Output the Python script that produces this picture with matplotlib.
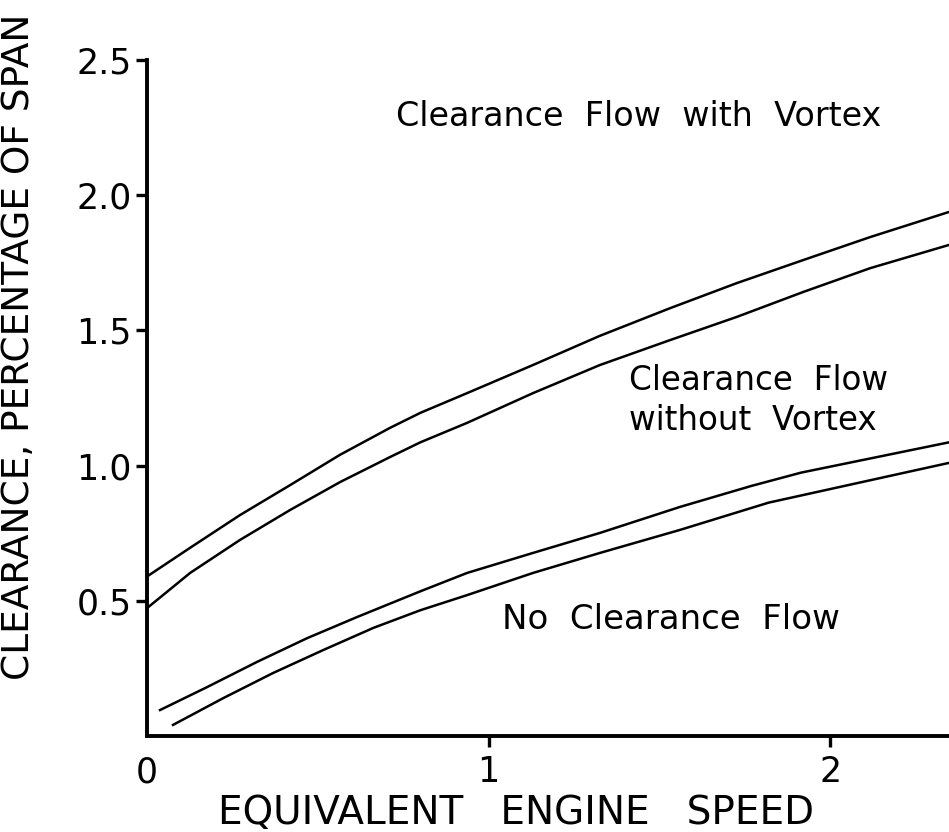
import matplotlib.pyplot as plt

# curve points (x = equivalent engine speed, y = clearance %)
vortex_upper_x = [0, 0.126, 0.272, 0.419, 0.565, 0.712, 0.80, 0.937, 1.13, 1.326, 1.531, 1.727, 1.921, 2.117, 2.348]
vortex_upper_y = [0.59, 0.696, 0.817, 0.928, 1.04, 1.14, 1.195, 1.268, 1.372, 1.48, 1.582, 1.675, 1.76, 1.845, 1.938]

vortex_lower_x = [0, 0.126, 0.272, 0.419, 0.565, 0.712, 0.80, 0.937, 1.13, 1.326, 1.531, 1.727, 1.921, 2.117, 2.348]
vortex_lower_y = [0.473, 0.603, 0.725, 0.836, 0.939, 1.032, 1.086, 1.158, 1.268, 1.372, 1.464, 1.55, 1.642, 1.73, 1.816]

noflow_upper_x = [0.038, 0.176, 0.322, 0.469, 0.615, 0.80, 0.937, 1.13, 1.326, 1.56, 1.77, 1.915, 2.348]
noflow_upper_y = [0.096, 0.181, 0.274, 0.362, 0.44, 0.535, 0.603, 0.677, 0.751, 0.847, 0.925, 0.974, 1.086]

noflow_lower_x = [0.076, 0.223, 0.369, 0.516, 0.663, 0.80, 0.937, 1.13, 1.326, 1.56, 1.82, 2.348]
noflow_lower_y = [0.041, 0.14, 0.233, 0.318, 0.40, 0.465, 0.521, 0.603, 0.677, 0.762, 0.863, 1.01]

x_ticks = [0, 1, 2]
x_tick_labels = ['0', '1', '2']
y_ticks = [0.5, 1.0, 1.5, 2.0, 2.5]
y_tick_labels = ['0.5', '1.0', '1.5', '2.0', '2.5']

plt.rcParams['font.family'] = ['DejaVu Sans']

fig = plt.figure(figsize=(9.49, 8.32), dpi=100)
ax = fig.add_axes([0.155, 0.1154, 0.845, 0.8125])

for xs, ys in [(vortex_upper_x, vortex_upper_y), (vortex_lower_x, vortex_lower_y),
               (noflow_upper_x, noflow_upper_y), (noflow_lower_x, noflow_lower_y)]:
    ax.plot(xs, ys, color='black', linewidth=1.8, clip_on=False)

ax.set_xlim(0, 2.348)
ax.set_ylim(0, 2.5)

# only left and bottom axis lines
ax.spines['top'].set_visible(False)
ax.spines['right'].set_visible(False)
ax.spines['left'].set_linewidth(2.8)
ax.spines['bottom'].set_linewidth(2.8)

ax.set_xticks(x_ticks)
ax.set_xticklabels(x_tick_labels)
ax.set_yticks(y_ticks)
ax.set_yticklabels(y_tick_labels)
ax.tick_params(axis='both', direction='out', length=8, width=2.4, labelsize=25)
ax.tick_params(axis='x', pad=6)
ax.tick_params(axis='y', pad=3)
ax.xaxis.get_major_ticks()[0].tick1line.set_visible(False)

ax.set_xlabel('EQUIVALENT   ENGINE   SPEED', fontsize=28, va='top')
ax.xaxis.set_label_coords(0.46, -0.086)
ax.set_ylabel('CLEARANCE, PERCENTAGE OF SPAN', fontsize=27)
ax.yaxis.set_label_coords(-0.137, 0.575)

# region labels
ax.text(0.73, 2.29, 'Clearance  Flow  with  Vortex', fontsize=24, va='center', ha='left')
ax.text(1.41, 1.24, 'Clearance  Flow\nwithout  Vortex', fontsize=23.5, va='center', ha='left',
        linespacing=1.25)
ax.text(1.04, 0.43, 'No  Clearance  Flow', fontsize=24.5, va='center', ha='left')

plt.savefig('out.png', dpi=100)
